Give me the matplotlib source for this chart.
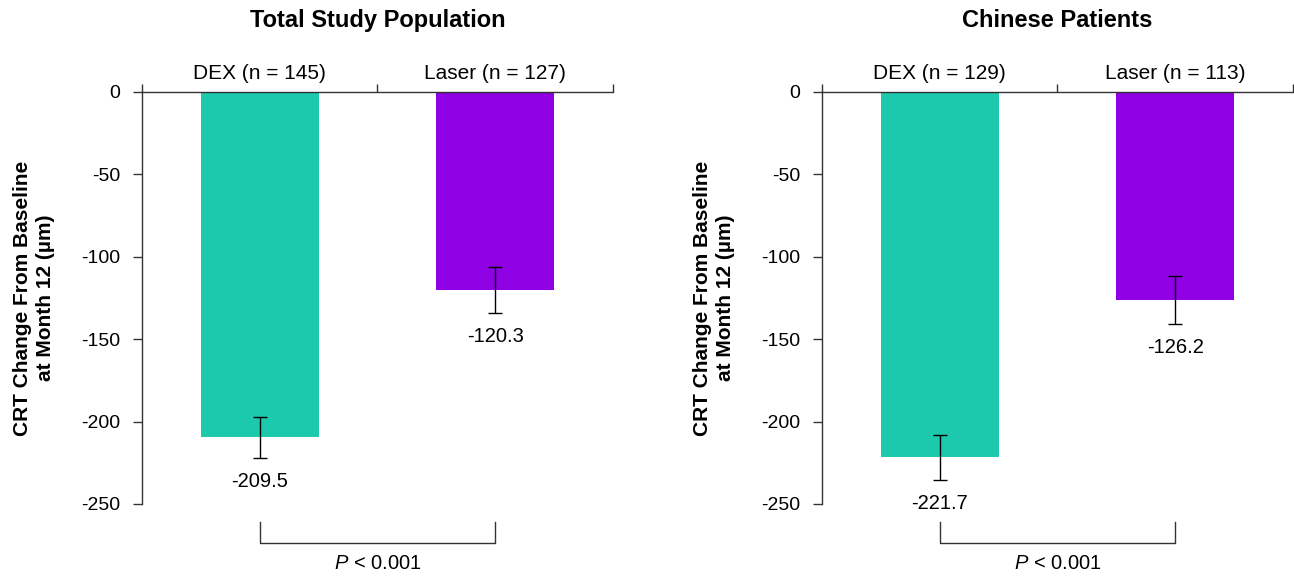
import matplotlib.pyplot as plt
import numpy as np

plt.rcParams['font.family'] = ['Liberation Sans', 'DejaVu Sans']
plt.rcParams['mathtext.fontset'] = 'custom'
plt.rcParams['mathtext.rm'] = 'Liberation Sans'
plt.rcParams['mathtext.it'] = 'Liberation Sans:italic'

# data
panel_titles = ['Total Study Population', 'Chinese Patients']
groups = ['DEX', 'Laser']
n_total = [145, 127]
n_chinese = [129, 113]
crt_total = [-209.5, -120.3]
crt_chinese = [-221.7, -126.2]
err_total = [12.3, 13.9]
err_chinese = [13.5, 14.3]
p_text = ['< 0.001', '< 0.001']
yticks = [0, -50, -100, -150, -200, -250]

bar_colours = ['#1DC9AC', '#9000E4']
axis_col = '#333333'

fig = plt.figure(figsize=(12.94, 5.76), dpi=100)
ax_l = fig.add_axes([0.1097, 0.125, 0.364, 0.7153])
ax_r = fig.add_axes([0.6352, 0.125, 0.364, 0.7153])


def draw_panel(ax, title, ns, vals, errs, ptxt):
    x = np.arange(len(groups))
    ax.bar(x, vals, width=0.5, color=bar_colours, zorder=2)
    ax.errorbar(x, vals, yerr=errs, fmt='none', ecolor='black',
                elinewidth=1.0, capsize=5, capthick=1.0, zorder=3)
    for xi, v, e in zip(x, vals, errs):
        ax.annotate(f'{v:.1f}', (xi, v - e), xytext=(0, -17),
                    textcoords='offset points', ha='center', va='center',
                    fontsize=14.5)

    ax.set_xlim(-0.5, 1.5)
    ax.set_ylim(-250, 0)
    ax.set_yticks(yticks)
    ax.set_yticklabels([str(t) for t in yticks])
    ax.tick_params(axis='y', length=6.5, width=1, color=axis_col, pad=9,
                   labelsize=14)

    ax.xaxis.tick_top()
    ax.set_xticks([-0.5, 0.5, 1.5])
    ax.set_xticklabels([])
    ax.set_xticks(x, minor=True)
    ax.set_xticklabels([f'{g} (n = {n})' for g, n in zip(groups, ns)],
                       minor=True)
    ax.tick_params(axis='x', which='major', length=6, width=1,
                   color=axis_col, direction='out')
    ax.tick_params(axis='x', which='minor', length=0, pad=6.5,
                   labelsize=15)

    for side in ['bottom', 'right']:
        ax.spines[side].set_visible(False)
    for side in ['top', 'left']:
        ax.spines[side].set_color(axis_col)
        ax.spines[side].set_linewidth(1.0)

    ax.set_ylabel('CRT Change From Baseline\nat Month 12 (\u00b5m)',
                  fontsize=15, fontweight='bold', va='center',
                  linespacing=1.25)
    ax.yaxis.set_label_coords(-0.229, 0.5)

    ax.text(0.5, 1.158, title, transform=ax.transAxes, ha='center',
            va='baseline', fontsize=17, fontweight='bold')

    # significance bracket under the bars
    ax.plot([x[0], x[0], x[1], x[1]], [-260.7, -273.5, -273.5, -260.7],
            color=axis_col, lw=1.0, clip_on=False)
    ax.text((x[0] + x[1]) / 2, -285.8, r'$\it{P}$ ' + ptxt, ha='center',
            va='center', fontsize=14.5)


draw_panel(ax_l, panel_titles[0], n_total, crt_total, err_total, p_text[0])
draw_panel(ax_r, panel_titles[1], n_chinese, crt_chinese, err_chinese, p_text[1])

fig.savefig('out.png', dpi=100)
